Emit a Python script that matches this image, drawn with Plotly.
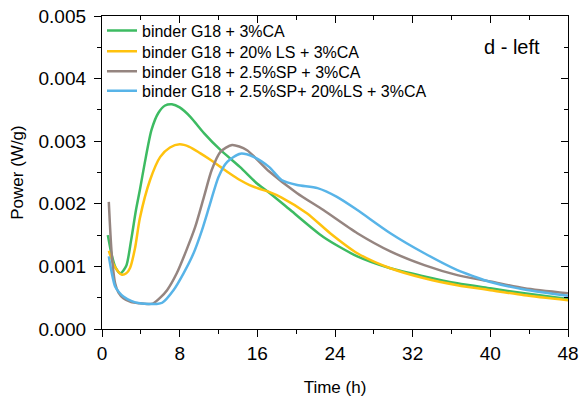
import plotly.graph_objects as go

# ---- data (time in h, power in W/g) ----
green_t = [0.6, 1.0, 1.4, 1.9, 2.5, 3.0, 3.5, 3.9, 4.4, 5.1, 5.8, 6.5, 7.2, 8.0, 9.1, 10.5, 12.2, 14.2, 16.0, 17.2, 19.4, 22.8, 26.3, 29.7, 33.2, 36.6, 40.0, 43.5, 48.0]
green_p = [0.00150, 0.00118, 0.00098, 0.00089, 0.00101, 0.00142, 0.00190, 0.00222, 0.00265, 0.00318, 0.00345, 0.00357, 0.00359, 0.00354, 0.00339, 0.00313, 0.00286, 0.00259, 0.00232, 0.00218, 0.00190, 0.00147, 0.00116, 0.00097, 0.00084, 0.00073, 0.00065, 0.00057, 0.00048]

yellow_t = [0.7, 1.2, 1.6, 2.0, 2.5, 2.9, 3.4, 3.9, 4.95, 6.0, 7.0, 8.0, 9.0, 10.1, 11.2, 12.2, 13.2, 14.2, 15.2, 16.2, 17.2, 18.5, 21.1, 23.5, 26.3, 29.7, 33.2, 36.6, 40.0, 43.5, 48.0]
yellow_p = [0.00125, 0.00103, 0.00093, 0.00087, 0.00089, 0.00098, 0.00129, 0.00177, 0.00238, 0.00275, 0.00290, 0.00295, 0.00291, 0.00281, 0.00270, 0.00259, 0.00248, 0.00238, 0.00230, 0.00224, 0.00219, 0.00210, 0.00185, 0.00153, 0.00121, 0.00097, 0.00081, 0.00070, 0.00062, 0.00054, 0.00046]

brown_t = [0.7, 1.0, 1.35, 1.7, 2.2, 3.0, 3.9, 4.6, 5.3, 6.0, 6.7, 7.7, 8.7, 9.6, 10.5, 11.3, 12.2, 13.4, 14.9, 17.2, 20.1, 22.8, 26.3, 29.7, 33.2, 36.6, 40.0, 43.5, 48.0]
brown_p = [0.00203, 0.00120, 0.00073, 0.00058, 0.00049, 0.00043, 0.00041, 0.00040, 0.00041, 0.00050, 0.00062, 0.00089, 0.00126, 0.00163, 0.00211, 0.00254, 0.00283, 0.00294, 0.00286, 0.00252, 0.00217, 0.00190, 0.00153, 0.00124, 0.00102, 0.00086, 0.00076, 0.00065, 0.00057]

blue_t = [0.7, 1.0, 1.35, 1.8, 2.2, 3.0, 3.9, 4.8, 5.6, 6.2, 7.36, 8.4, 9.43, 10.3, 11.15, 12.0, 12.9, 14.25, 15.6, 17.2, 18.5, 20.1, 22.2, 24.2, 26.3, 29.7, 33.2, 36.6, 38.3, 40.0, 43.5, 48.0]
blue_p = [0.00116, 0.00090, 0.00068, 0.00058, 0.00052, 0.00045, 0.00041, 0.00040, 0.00040, 0.00042, 0.00062, 0.00089, 0.00121, 0.00158, 0.00201, 0.00243, 0.00267, 0.00280, 0.00275, 0.00259, 0.00238, 0.00230, 0.00225, 0.00211, 0.00190, 0.00153, 0.00121, 0.00094, 0.00084, 0.00075, 0.00063, 0.00053]

names = ["binder G18 + 3%CA", "binder G18 + 20% LS + 3%CA",
         "binder G18 + 2.5%SP + 3%CA", "binder G18 + 2.5%SP+ 20%LS + 3%CA"]
colors = ["#3DBB62", "#FFC20E", "#958580", "#58B4E8"]
times = [green_t, yellow_t, brown_t, blue_t]
powers = [green_p, yellow_p, brown_p, blue_p]

x_ticks = [0, 8, 16, 24, 32, 40, 48]
y_ticks = [0.000, 0.001, 0.002, 0.003, 0.004, 0.005]
y_labels = ["0.000", "0.001", "0.002", "0.003", "0.004", "0.005"]

FONT = "Liberation Sans, Arial, sans-serif"

fig = go.Figure()
legend_ids = ["legend", "legend2", "legend3", "legend4"]
for name, t, p, c, lg in zip(names, times, powers, colors, legend_ids):
    fig.add_trace(go.Scatter(x=t, y=p, name=name, mode="lines", legend=lg,
                             line=dict(color=c, width=2.5, shape="spline", smoothing=0.7)))
# dummy trace for mirrored (top/right) axes
fig.add_trace(go.Scatter(x=[None], y=[None], xaxis="x2", yaxis="y2",
                         showlegend=False, hoverinfo="skip"))

axis_common = dict(showgrid=False, zeroline=False, showline=True, linecolor="black",
                   linewidth=1.3, tickcolor="black", tickwidth=1.3, automargin=False)

legend_style = dict(x=0.0, xanchor="left", yanchor="middle", bgcolor="rgba(0,0,0,0)",
                    font=dict(size=16, family=FONT, color="black"), itemwidth=30)
legend_rows = [0.953, 0.887, 0.823, 0.761]

fig.update_layout(
    width=580, height=400,
    margin=dict(l=102, r=12, t=16, b=71),
    paper_bgcolor="white", plot_bgcolor="white",
    font=dict(family=FONT, color="black"),
    showlegend=True,
    legend=dict(y=legend_rows[0], **legend_style),
    legend2=dict(y=legend_rows[1], **legend_style),
    legend3=dict(y=legend_rows[2], **legend_style),
    legend4=dict(y=legend_rows[3], **legend_style),
    xaxis=dict(range=[0, 48], tickvals=x_ticks, ticks="outside", ticklen=7,
               minor=dict(dtick=4, tick0=0, ticks="outside", ticklen=4, tickcolor="black"),
               tickfont=dict(size=19), title=dict(text="Time (h)", font=dict(size=17), standoff=18),
               **axis_common),
    yaxis=dict(range=[0, 0.005], tickvals=y_ticks, ticktext=y_labels, ticks="outside", ticklen=7,
               ticklabelstandoff=4,
               minor=dict(dtick=0.0005, tick0=0, ticks="outside", ticklen=4, tickcolor="black"),
               tickfont=dict(size=19), title=dict(text="Power (W/g)", font=dict(size=17), standoff=10),
               **axis_common),
    xaxis2=dict(range=[0, 48], overlaying="x", side="top", anchor="y", tickvals=x_ticks,
                ticks="inside", ticklen=7, showticklabels=False,
                minor=dict(dtick=4, tick0=0, ticks="inside", ticklen=4, tickcolor="black"),
                **axis_common),
    yaxis2=dict(range=[0, 0.005], overlaying="y", side="right", anchor="x", tickvals=y_ticks,
                ticks="inside", ticklen=7, showticklabels=False,
                minor=dict(dtick=0.0005, tick0=0, ticks="inside", ticklen=4, tickcolor="black"),
                **axis_common),
    annotations=[dict(text="d - left", xref="paper", yref="paper", x=0.945, y=0.902,
                      xanchor="right", yanchor="middle", showarrow=False,
                      font=dict(size=20, family=FONT, color="black"))],
)

fig.write_html("out.html", config={"displayModeBar": False},
               post_script="document.body.style.margin='0';document.body.style.padding='0';")
